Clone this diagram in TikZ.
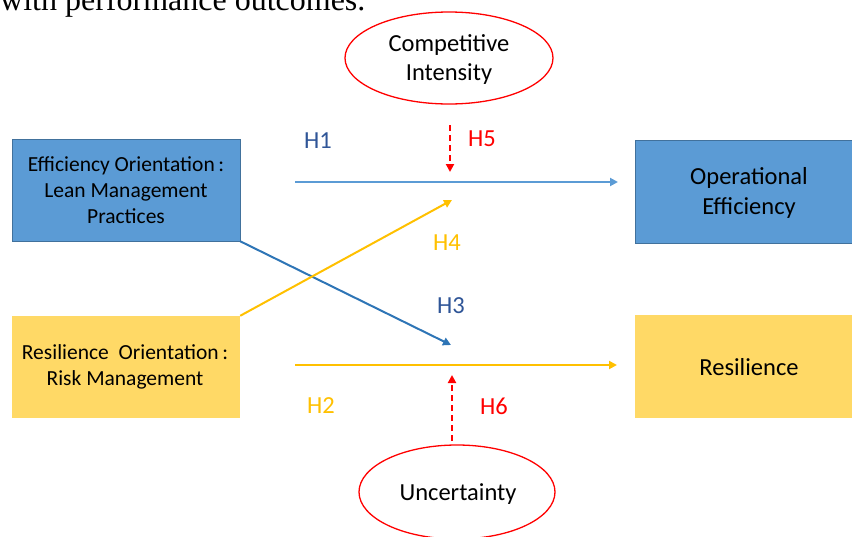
\documentclass[tikz,border=0pt]{standalone}
\usepackage{fontspec}
\setmainfont{Carlito}
\newfontfamily\timesfont{Liberation Serif}
\usetikzlibrary{shapes.geometric,arrows.meta}
\definecolor{boxblue}{HTML}{5B9BD5}
\definecolor{boxblueedge}{HTML}{41719C}
\definecolor{boxyellow}{HTML}{FFD966}
\definecolor{arrblue}{HTML}{5B9BD5}
\definecolor{arrdark}{HTML}{2E75B6}
\definecolor{arryellow}{HTML}{FFC000}
\definecolor{labblue}{HTML}{2F5597}
\definecolor{myred}{HTML}{FF0000}
\tikzset{
  bluebox/.style={draw=boxblueedge, line width=0.6pt, fill=boxblue, inner sep=0pt},
  yellowbox/.style={fill=boxyellow, inner sep=0pt},
  modell/.style={ellipse, draw=myred, line width=1.3pt, fill=white, inner sep=0pt},
  txt/.style={align=center, inner sep=0pt},
  arr/.style={line width=2pt, -{Triangle[length=8pt,width=8pt]}},
  dasharr/.style={draw=myred, line width=2.6pt, dash pattern=on 6pt off 4pt, -{Triangle[length=8pt,width=8pt]}},
  hlab/.style={font=\fontsize{24.5}{26}\selectfont},
}
\begin{document}
\begin{tikzpicture}[x=1pt,y=-1pt]
\useasboundingbox (0,0) rectangle (852,536);
\begin{scope}
\clip (0,0) rectangle (852,536);
\node[anchor=base west, inner sep=0pt, font=\timesfont\fontsize{32}{34}\selectfont] (cap) at (0,10) {with performance outcomes.};
% boxes
\node[bluebox, minimum width=228pt, minimum height=102pt] (eff) at (126,190) {};
\node[txt, font=\fontsize{21.5}{26}\selectfont] (efft) at (eff.center) {Efficiency Orientation\,:\\Lean Management\\Practices};
\node[yellowbox, minimum width=228pt, minimum height=102pt] (res) at (126,367) {};
\node[txt, font=\fontsize{21.5}{26}\selectfont] (rest) at (125,367) {Resilience\ \ Orientation\,:\\Risk Management};
\node[bluebox, minimum width=220pt, minimum height=103pt] (ope) at (745,191.5) {};
\node[txt, font=\fontsize{24.5}{30}\selectfont] (opet) at (749,193) {Operational\\Efficiency};
\node[yellowbox, minimum width=220pt, minimum height=103pt] (resl) at (745,366.5) {};
\node[txt, font=\fontsize{24.5}{30}\selectfont] (reslt) at (749,367.5) {Resilience};
% ellipses
\node[modell, minimum width=208pt, minimum height=92pt] (comp) at (449,58) {};
\node[txt, font=\fontsize{24.5}{29}\selectfont] (compt) at (449,60) {Competitive\\Intensity};
\node[modell, minimum width=196pt, minimum height=94pt] (unc) at (457,492) {};
\node[txt, font=\fontsize{24.5}{29}\selectfont] (unct) at (458,494) {Uncertainty};
% coordinates
\coordinate (h1s) at (295,182);
\coordinate (h1e) at (618,182);
\coordinate (h2s) at (295,365);
\coordinate (h2e) at (617,365);
\coordinate (h3e) at (451,345);
\coordinate (h4e) at (452,200);
\coordinate (h5s) at (450,125);
\coordinate (h5e) at (450,172);
\coordinate (h6s) at (452,441);
\coordinate (h6e) at (452,375);
% arrows
\draw[arr, draw=arrblue, fill=arrblue] (h1s) -- (h1e);
\draw[arr, draw=arryellow, fill=arryellow] (h2s) -- (h2e);
\draw[arr, draw=arrdark] (eff.south east) -- (h3e);
\draw[arr, draw=arryellow] (res.north east) -- (h4e);
\draw[dasharr] (h5s) -- (h5e);
\draw[dasharr] (h6s) -- (h6e);
% labels
\node[hlab, text=labblue] (l1) at (318,141) {H1};
\node[hlab, text=myred] (l5) at (482,139) {H5};
\node[hlab, text=arryellow] (l4) at (447,243) {H4};
\node[hlab, text=labblue] (l3) at (451,306) {H3};
\node[hlab, text=arryellow] (l2) at (321,406) {H2};
\node[hlab, text=myred] (l6) at (494,406) {H6};
\end{scope}
\end{tikzpicture}
\end{document}
